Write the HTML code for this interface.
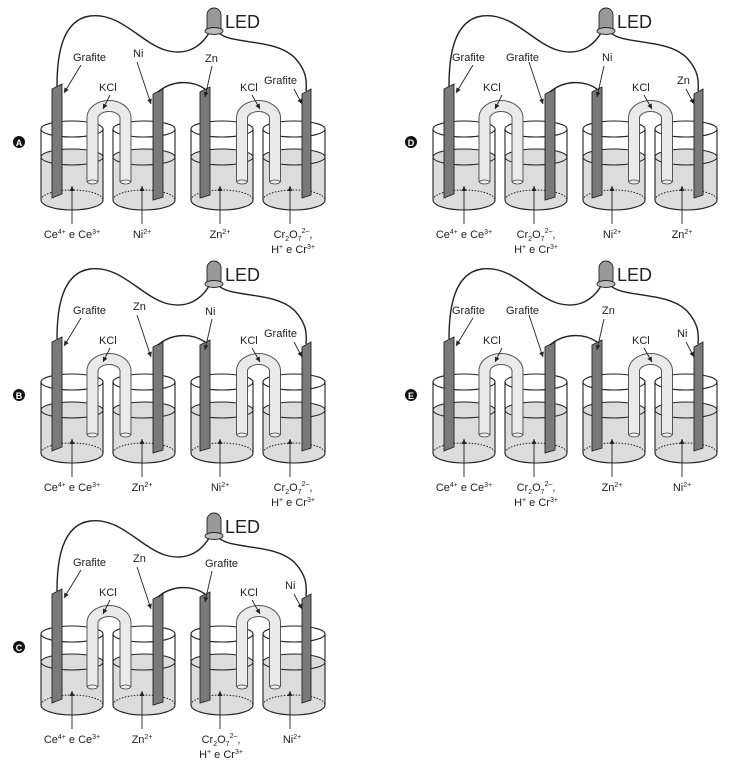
<!DOCTYPE html>
<html><head><meta charset="utf-8"><style>
html,body{margin:0;padding:0;background:#fff;}
svg{display:block;}
text{font-family:"Liberation Sans",Arial,sans-serif;font-size:11px;fill:#222;}
.led{font-size:18px;}
.sm{font-size:7px;}
</style></head><body>
<svg width="740" height="764" viewBox="0 0 740 764" xmlns="http://www.w3.org/2000/svg">
<defs>
<marker id="ah" markerWidth="6" markerHeight="6" refX="5" refY="3" orient="auto" markerUnits="userSpaceOnUse"><path d="M0,0.5 L5,3 L0,5.5 z" fill="#222"/></marker>
<g id="beaker">
  <path d="M-31,157 A31,8 0 0 1 31,157 V200 A31,10 0 0 1 -31,200 Z" fill="#dcdcdc"/>
  <path d="M-31,129 V200 M31,129 V200" stroke="#222" stroke-width="1.1" fill="none"/>
  <ellipse cx="0" cy="129" rx="31" ry="8" fill="none" stroke="#222" stroke-width="1.1"/>
  <ellipse cx="0" cy="157" rx="31" ry="8" fill="none" stroke="#222" stroke-width="1"/>
  <path d="M-31,200 A31,10 0 0 1 31,200" fill="none" stroke="#222" stroke-width="1" stroke-dasharray="1.5,1.5"/>
  <path d="M-31,200 A31,10 0 0 0 31,200" fill="none" stroke="#222" stroke-width="1.1"/>
</g>
<g id="bridge">
  <path d="M0,182 V118 A16.5,12 0 0 1 33,118 V182" fill="none" stroke="#555" stroke-width="12"/>
  <path d="M0,183 V118 A16.5,12 0 0 1 33,118 V183" fill="none" stroke="#eaeaea" stroke-width="10"/>
  <ellipse cx="0" cy="182" rx="5" ry="2" fill="#eee" stroke="#444" stroke-width="0.8"/>
  <ellipse cx="33" cy="182" rx="5" ry="2" fill="#eee" stroke="#444" stroke-width="0.8"/>
</g>
<g id="panel">
  <use href="#beaker" x="72"/>
  <use href="#beaker" x="144"/>
  <use href="#beaker" x="222"/>
  <use href="#beaker" x="294"/>
  <use href="#bridge" x="92.5"/>
  <use href="#bridge" x="242"/>
  <g fill="#7a7a7a" stroke="#222" stroke-width="0.9">
    <polygon points="52,89 62,84 62,194 52,198"/>
    <polygon points="153,94 163,89 163,197 153,200"/>
    <polygon points="200,92 210,87 210,195 200,198"/>
    <polygon points="302,94 311,89 311,195 302,198"/>
  </g>
  <g fill="none" stroke="#222" stroke-width="1.4">
    <path d="M209,33 C200,48 185,56 165,50 C140,42 120,12 90,16 C62,20 57,55 57,86"/>
    <path d="M219,33 C232,45 275,38 295,58 C306,70 307,80 306,91"/>
    <path d="M158,92 C172,80 192,80 205,89"/>
  </g>
  <path d="M207,29 V15 A7,7 0 0 1 221,15 V29 Z" fill="#999" stroke="#222" stroke-width="0.9"/>
  <ellipse cx="214" cy="31" rx="9" ry="3.5" fill="#bbb" stroke="#222" stroke-width="0.9"/>
  <text class="led" x="225" y="28">LED</text>
  <g stroke="#222" stroke-width="0.9" fill="none" marker-end="url(#ah)">
    <path d="M81,65 L64,93"/>
    <path d="M137,62 L151,104"/>
    <path d="M212,66 L205,97"/>
    <path d="M294,89 L302,104"/>
    <path d="M110,95 L103,109"/>
    <path d="M252,95 L260,109"/>
    <path d="M72,224 L72,186"/>
    <path d="M142,224 L142,186"/>
    <path d="M220,224 L220,186"/>
    <path d="M290,224 L290,186"/>
  </g>
</g>
</defs>

<g>
  <use href="#panel"/>
  <circle cx="19" cy="142" r="6" fill="#111"/><text x="19" y="146" text-anchor="middle" style="fill:#fff;font-size:9px;font-weight:bold">A</text>
  <text x="73" y="61">Grafite</text><text x="133" y="57">Ni</text><text x="205" y="62">Zn</text><text x="264" y="84">Grafite</text>
  <text x="99" y="91">KCl</text><text x="240" y="91">KCl</text>
  <text x="72" y="238" text-anchor="middle">Ce<tspan class="sm" dy="-4">4+</tspan><tspan dy="4"> e Ce</tspan><tspan class="sm" dy="-4">3+</tspan></text>
  <text x="142" y="238" text-anchor="middle">Ni<tspan class="sm" dy="-4">2+</tspan></text>
  <text x="220" y="238" text-anchor="middle">Zn<tspan class="sm" dy="-4">2+</tspan></text>
  <text x="293" y="238" text-anchor="middle">Cr<tspan class="sm" dy="3">2</tspan><tspan dy="-3">O</tspan><tspan class="sm" dy="3">7</tspan><tspan class="sm" dy="-8">2–</tspan><tspan dy="5">,</tspan></text>
  <text x="293" y="253" text-anchor="middle">H<tspan class="sm" dy="-4">+</tspan><tspan dy="4"> e Cr</tspan><tspan class="sm" dy="-4">3+</tspan></text>
</g>
<g transform="translate(0,253)">
  <use href="#panel"/>
  <circle cx="19" cy="142" r="6" fill="#111"/><text x="19" y="146" text-anchor="middle" style="fill:#fff;font-size:9px;font-weight:bold">B</text>
  <text x="73" y="61">Grafite</text><text x="133" y="57">Zn</text><text x="205" y="62">Ni</text><text x="264" y="84">Grafite</text>
  <text x="99" y="91">KCl</text><text x="240" y="91">KCl</text>
  <text x="72" y="238" text-anchor="middle">Ce<tspan class="sm" dy="-4">4+</tspan><tspan dy="4"> e Ce</tspan><tspan class="sm" dy="-4">3+</tspan></text>
  <text x="142" y="238" text-anchor="middle">Zn<tspan class="sm" dy="-4">2+</tspan></text>
  <text x="220" y="238" text-anchor="middle">Ni<tspan class="sm" dy="-4">2+</tspan></text>
  <text x="293" y="238" text-anchor="middle">Cr<tspan class="sm" dy="3">2</tspan><tspan dy="-3">O</tspan><tspan class="sm" dy="3">7</tspan><tspan class="sm" dy="-8">2–</tspan><tspan dy="5">,</tspan></text>
  <text x="293" y="253" text-anchor="middle">H<tspan class="sm" dy="-4">+</tspan><tspan dy="4"> e Cr</tspan><tspan class="sm" dy="-4">3+</tspan></text>
</g>
<g transform="translate(0,505)">
  <use href="#panel"/>
  <circle cx="19" cy="142" r="6" fill="#111"/><text x="19" y="146" text-anchor="middle" style="fill:#fff;font-size:9px;font-weight:bold">C</text>
  <text x="73" y="61">Grafite</text><text x="133" y="57">Zn</text><text x="205" y="62">Grafite</text><text x="285" y="84">Ni</text>
  <text x="99" y="91">KCl</text><text x="240" y="91">KCl</text>
  <text x="72" y="238" text-anchor="middle">Ce<tspan class="sm" dy="-4">4+</tspan><tspan dy="4"> e Ce</tspan><tspan class="sm" dy="-4">3+</tspan></text>
  <text x="142" y="238" text-anchor="middle">Zn<tspan class="sm" dy="-4">2+</tspan></text>
  <text x="221" y="238" text-anchor="middle">Cr<tspan class="sm" dy="3">2</tspan><tspan dy="-3">O</tspan><tspan class="sm" dy="3">7</tspan><tspan class="sm" dy="-8">2–</tspan><tspan dy="5">,</tspan></text>
  <text x="221" y="253" text-anchor="middle">H<tspan class="sm" dy="-4">+</tspan><tspan dy="4"> e Cr</tspan><tspan class="sm" dy="-4">3+</tspan></text>
  <text x="292" y="238" text-anchor="middle">Ni<tspan class="sm" dy="-4">2+</tspan></text>
</g>
<g transform="translate(392,0)">
  <use href="#panel"/>
  <circle cx="19" cy="142" r="6" fill="#111"/><text x="19" y="146" text-anchor="middle" style="fill:#fff;font-size:9px;font-weight:bold">D</text>
  <text x="60" y="61">Grafite</text><text x="114" y="61">Grafite</text><text x="210" y="61">Ni</text><text x="285" y="84">Zn</text>
  <text x="91" y="91">KCl</text><text x="240" y="91">KCl</text>
  <text x="72" y="238" text-anchor="middle">Ce<tspan class="sm" dy="-4">4+</tspan><tspan dy="4"> e Ce</tspan><tspan class="sm" dy="-4">3+</tspan></text>
  <text x="144" y="238" text-anchor="middle">Cr<tspan class="sm" dy="3">2</tspan><tspan dy="-3">O</tspan><tspan class="sm" dy="3">7</tspan><tspan class="sm" dy="-8">2–</tspan><tspan dy="5">,</tspan></text>
  <text x="144" y="253" text-anchor="middle">H<tspan class="sm" dy="-4">+</tspan><tspan dy="4"> e Cr</tspan><tspan class="sm" dy="-4">3+</tspan></text>
  <text x="220" y="238" text-anchor="middle">Ni<tspan class="sm" dy="-4">2+</tspan></text>
  <text x="290" y="238" text-anchor="middle">Zn<tspan class="sm" dy="-4">2+</tspan></text>
</g>
<g transform="translate(392,253)">
  <use href="#panel"/>
  <circle cx="19" cy="142" r="6" fill="#111"/><text x="19" y="146" text-anchor="middle" style="fill:#fff;font-size:9px;font-weight:bold">E</text>
  <text x="60" y="61">Grafite</text><text x="114" y="61">Grafite</text><text x="210" y="61">Zn</text><text x="285" y="84">Ni</text>
  <text x="91" y="91">KCl</text><text x="240" y="91">KCl</text>
  <text x="72" y="238" text-anchor="middle">Ce<tspan class="sm" dy="-4">4+</tspan><tspan dy="4"> e Ce</tspan><tspan class="sm" dy="-4">3+</tspan></text>
  <text x="144" y="238" text-anchor="middle">Cr<tspan class="sm" dy="3">2</tspan><tspan dy="-3">O</tspan><tspan class="sm" dy="3">7</tspan><tspan class="sm" dy="-8">2–</tspan><tspan dy="5">,</tspan></text>
  <text x="144" y="253" text-anchor="middle">H<tspan class="sm" dy="-4">+</tspan><tspan dy="4"> e Cr</tspan><tspan class="sm" dy="-4">3+</tspan></text>
  <text x="220" y="238" text-anchor="middle">Zn<tspan class="sm" dy="-4">2+</tspan></text>
  <text x="290" y="238" text-anchor="middle">Ni<tspan class="sm" dy="-4">2+</tspan></text>
</g>
</svg>
</body></html>
